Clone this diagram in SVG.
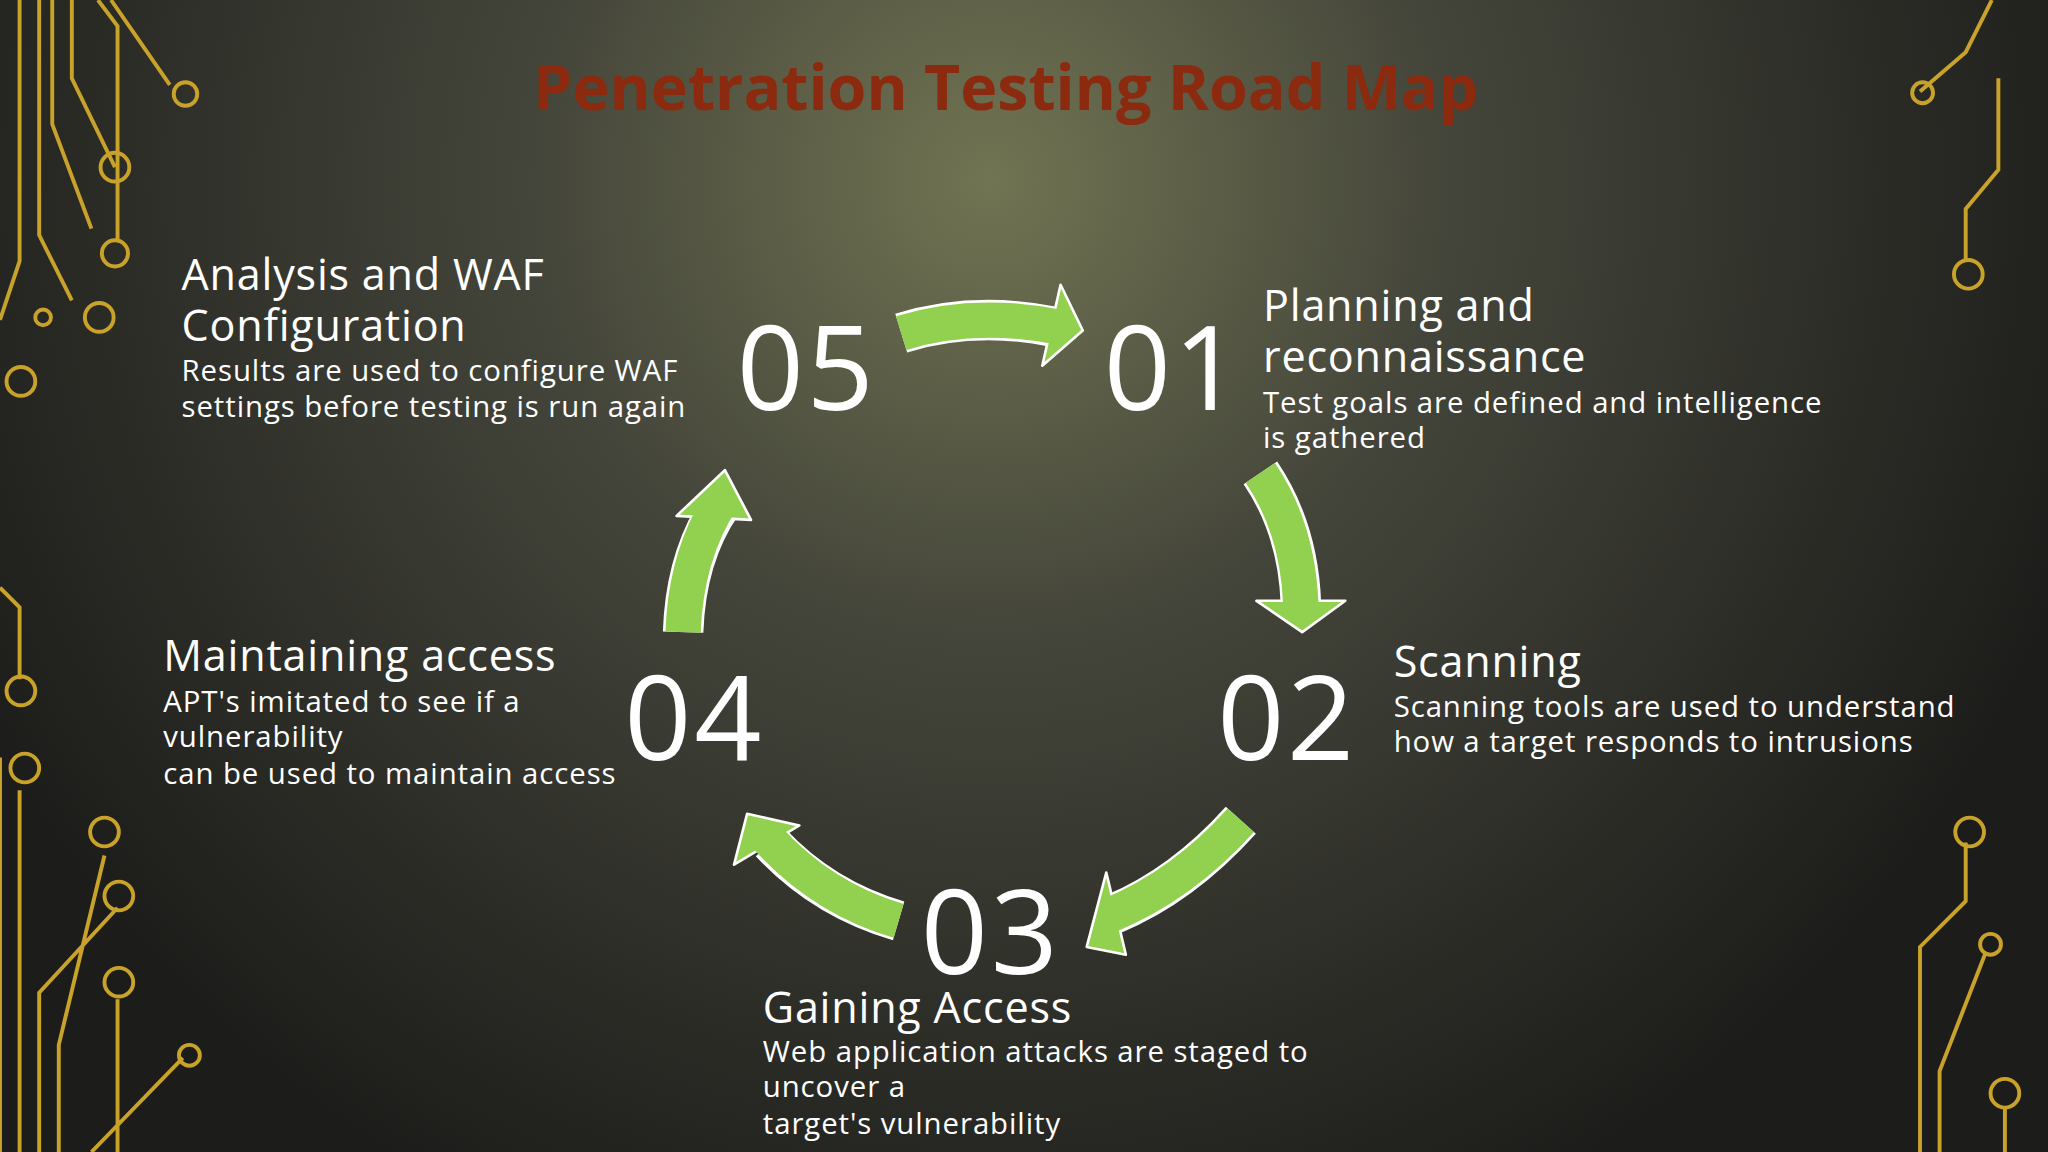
<svg xmlns="http://www.w3.org/2000/svg" width="2048" height="1152" viewBox="0 0 2048 1152">
<defs>
<radialGradient id="bg" cx="990" cy="180" r="1150" gradientUnits="userSpaceOnUse">
<stop offset="0" stop-color="#717452"/><stop offset="0.4" stop-color="#44453a"/><stop offset="1" stop-color="#1c1c1a"/>
</radialGradient>
<style>
.t{font-family:"Open Sans","Noto Sans",sans-serif;fill:#fff}
.h{font-size:33px;letter-spacing:0.6px}.d{font-size:22.5px;letter-spacing:0.7px}.n{font-size:90px;letter-spacing:2px}
.c{fill:none;stroke:#c9a22a;stroke-width:3}
.bw{fill:none;stroke:#fff;stroke-width:31}
.bg{fill:none;stroke:#92d050;stroke-width:27}
.hd{fill:#92d050;stroke:#fff;stroke-width:2;stroke-linejoin:round}
</style>
</defs>
<rect width="2048" height="1152" fill="url(#bg)"/>
<g transform="scale(1.30612)">
<g id="circuits">
<path class="c" d="M15,0V200L0,245M30,0V180L55,230M40,0V95L70,175M55,0V60L88,128M75,0L90,20V185M85,0L130,65M0,450L15,465V520M0,580V882M15,605V882M45,882V800L80,655M30,882V760L90,695M90,765V882M70,882L140,810M1525,0L1505,40L1470,70M1530,60V130L1505,160V200M1505,645V690L1470,725V882M1520,730L1485,820V882M1535,882V848"/>
<g fill="none" stroke="#c9a22a" stroke-width="3">
<circle cx="142" cy="72" r="9"/><circle cx="88" cy="128" r="11"/><circle cx="88" cy="194" r="10"/><circle cx="76" cy="243" r="11"/><circle cx="33" cy="243" r="6"/><circle cx="16" cy="292" r="11"/><circle cx="16" cy="529" r="11"/><circle cx="19" cy="588" r="11"/><circle cx="80" cy="637" r="11"/><circle cx="91" cy="686" r="11"/><circle cx="91" cy="752" r="11"/><circle cx="145" cy="808" r="8"/><circle cx="1472" cy="71" r="8"/><circle cx="1507" cy="210" r="11"/><circle cx="1508" cy="637" r="11"/><circle cx="1524" cy="723" r="8"/><circle cx="1535" cy="837" r="11"/>
</g>
</g>
<text x="770" y="84" text-anchor="middle" font-family="'Open Sans','Noto Sans',sans-serif" font-weight="bold" font-size="48" fill="#8b2a0f">Penetration Testing Road Map</text>
<g id="connectors">
<path class="bw" d="M690,255 Q745,238 806,250"/>
<path class="bw" d="M965,362 Q994,405 996,462"/>
<path class="bw" d="M950,628 Q905,678 852,700"/>
<path class="bw" d="M688,705 Q630,688 590,645"/>
<path class="bw" d="M523,484 Q525,425 553,385"/>
<polygon class="hd" points="812,218 829,253 798,280"/>
<polygon class="hd" points="962,460 1030,460 997,484"/>
<polygon class="hd" points="847,668 832,725 862,731"/>
<polygon class="hd" points="612,632 572,623 562,662"/>
<polygon class="hd" points="518,395 575,398 555,360"/>
<path class="bg" d="M690,255 Q745,238 808,250"/>
<path class="bg" d="M965,362 Q994,405 996,464"/>
<path class="bg" d="M950,628 Q905,678 849,701"/>
<path class="bg" d="M688,705 Q630,688 588,642"/>
<path class="bg" d="M523,484 Q525,425 553,382"/>
</g>
<g id="n01"><text class="t n" x="845" y="314">01</text>
<text class="t h" x="967" y="246">Planning and</text><text class="t h" x="967" y="285">reconnaissance</text>
<text class="t d" x="967" y="316">Test goals are defined and intelligence</text><text class="t d" x="967" y="343">is gathered</text></g>
<g id="n02"><text class="t n" x="932" y="582">02</text>
<text class="t h" x="1067" y="518">Scanning</text>
<text class="t d" x="1067" y="549">Scanning tools are used to understand</text><text class="t d" x="1067" y="576">how a target responds to intrusions</text></g>
<g id="n03"><text class="t n" x="705" y="746">03</text>
<text class="t h" x="584" y="783">Gaining Access</text>
<text class="t d" x="584" y="813">Web application attacks are staged to</text><text class="t d" x="584" y="840">uncover a</text><text class="t d" x="584" y="868">target's vulnerability</text></g>
<g id="n04"><text class="t n" x="478" y="582">04</text>
<text class="t h" x="125" y="514">Maintaining access</text>
<text class="t d" x="125" y="545">APT's imitated to see if a</text><text class="t d" x="125" y="572">vulnerability</text><text class="t d" x="125" y="600">can be used to maintain access</text></g>
<g id="n05"><text class="t n" x="564" y="314">05</text>
<text class="t h" x="139" y="222">Analysis and WAF</text><text class="t h" x="139" y="261">Configuration</text>
<text class="t d" x="139" y="292">Results are used to configure WAF</text><text class="t d" x="139" y="319">settings before testing is run again</text></g>
</g>
</svg>
